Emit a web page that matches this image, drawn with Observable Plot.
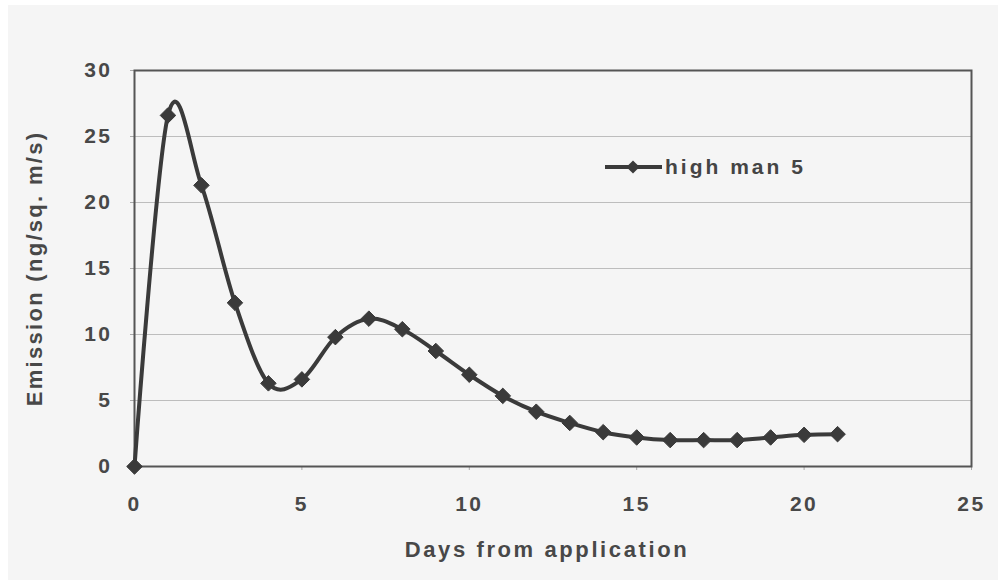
<!DOCTYPE html>
<html>
<head>
<meta charset="utf-8">
<script src="https://cdn.jsdelivr.net/npm/d3@7"></script>
<script src="https://cdn.jsdelivr.net/npm/@observablehq/plot@0.6"></script>
<style>
  html, body { margin: 0; padding: 0; background: #ffffff; }
  #wrap { position: absolute; left: 8px; top: 5px; width: 990px; height: 575px; background: #f5f5f5; }
  #chart svg { display: block; background: #f5f5f5; }
  #chart svg text { letter-spacing: 2.5px; }
  #legend { position: absolute; left: 597px; top: 150px; font-family: "Liberation Sans", Arial, sans-serif; font-weight: bold; font-size: 21px; color: #444; letter-spacing: 3px; display: flex; align-items: center; }
  #legend svg { display: block; }
</style>
</head>
<body>
<div id="wrap">
  <div id="chart"></div>
  <div id="legend"></div>
</div>
<script>
const days = [0, 1, 2, 3, 4, 5, 6, 7, 8, 9, 10, 11, 12, 13, 14, 15, 16, 17, 18, 19, 20, 21];
const emission = [0, 26.6, 21.3, 12.4, 6.3, 6.6, 9.8, 11.2, 10.4, 8.75, 6.95, 5.35, 4.15, 3.3, 2.6, 2.2, 2.0, 2.0, 2.0, 2.2, 2.4, 2.45];
const seriesName = "high man 5";
const xTicks = [0, 5, 10, 15, 20, 25];
const yTicks = [0, 5, 10, 15, 20, 25, 30];
const gridTicks = [5, 10, 15, 20, 25];

const data = days.map((d, i) => ({day: d, value: emission[i]}));
const ink = "#3a3a3a";

const chart = Plot.plot({
  width: 990,
  height: 575,
  marginLeft: 126,
  marginRight: 27,
  marginTop: 65,
  marginBottom: 114,
  style: {fontFamily: "'Liberation Sans', Arial, sans-serif", background: "#f5f5f5", color: "#484848"},
  x: {domain: [0, 25]},
  y: {domain: [0, 30]},
  marks: [
    Plot.gridY(gridTicks, {stroke: "#bdbdbd", strokeOpacity: 1, strokeWidth: 1}),
    Plot.axisX({ticks: xTicks, tickSize: 4, tickPadding: 26, fontSize: 21, fontWeight: "bold", stroke: "#aaa", tickFormat: d3.format("d"),
      label: "Days from application", labelAnchor: "center", labelArrow: "none", labelOffset: 90}),
    Plot.axisY({ticks: yTicks, tickSize: 4, tickPadding: 18, fontSize: 21, fontWeight: "bold", stroke: "#aaa", tickFormat: d3.format("d"),
      label: "Emission (ng/sq. m/s)", labelAnchor: "center", labelArrow: "none", labelOffset: 108}),
    Plot.frame({stroke: "#555", strokeWidth: 2}),
    Plot.line(data, {x: "day", y: "value", curve: "cardinal", stroke: ink, strokeWidth: 4}),
    Plot.dot(data, {x: "day", y: "value", symbol: "diamond2", r: 7, fill: ink, stroke: ink, strokeWidth: 1})
  ]
});
document.getElementById("chart").appendChild(chart);

d3.select(chart).selectAll('g[aria-label="y-axis label"] text').style("letter-spacing", "2.3px").style("font-size", "22px");
d3.select(chart).selectAll('g[aria-label="x-axis label"]').attr("transform", function() {
  return "translate(-6,0) " + (this.getAttribute("transform") || "");
});
d3.select(chart).selectAll('g[aria-label="x-axis label"] text').style("letter-spacing", "2.6px").style("font-size", "22px");

// legend
const leg = d3.select("#legend");
const ls = leg.append("svg").attr("width", 58).attr("height", 20);
ls.append("line").attr("x1", 0).attr("x2", 57).attr("y1", 10).attr("y2", 10).attr("stroke", ink).attr("stroke-width", 4);
ls.append("path").attr("d", d3.symbol(d3.symbolDiamond2 || d3.symbolSquare2, 110)()).attr("transform", "translate(28,10)").attr("fill", ink);
leg.append("span").text(seriesName).style("margin-left", "2px");
</script>
</body>
</html>
